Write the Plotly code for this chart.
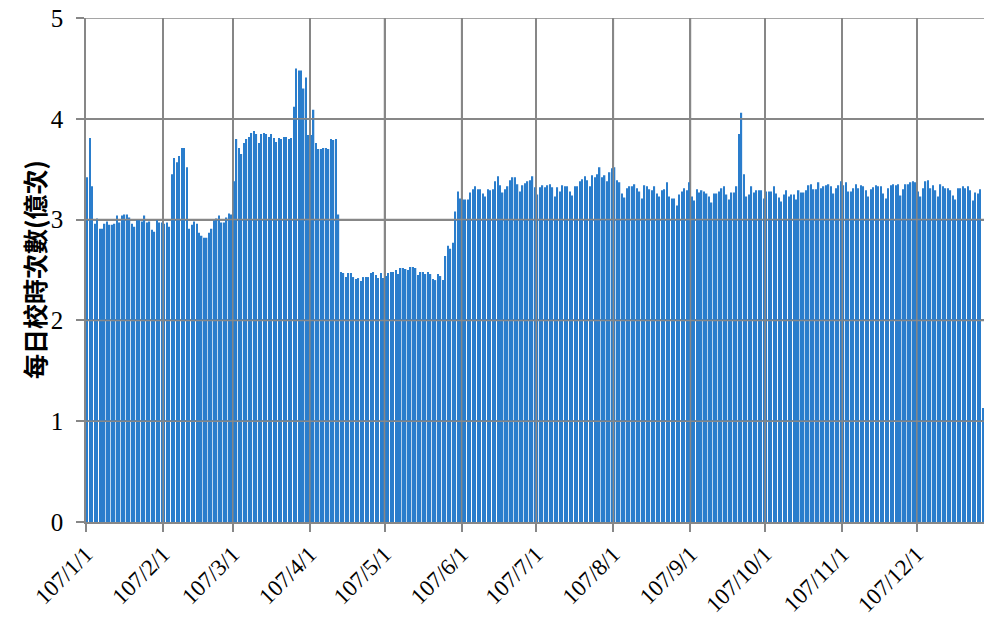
import pandas as pd
import plotly.graph_objects as go

# Daily time-sync request counts (unit: 100 million), ROC year 107 (2018)
jan = [3.42, 3.81, 3.33, 2.96, 3.01, 2.91, 2.91, 2.96, 2.98, 2.95, 2.95, 2.96, 3.04, 2.97, 3.04, 3.05,
       3.05, 3.02, 2.96, 2.93, 3.00, 3.00, 2.98, 3.04, 2.97, 2.98, 2.90, 2.88, 3.00, 2.97, 2.97]
feb = [2.96, 2.97, 2.93, 3.45, 3.61, 3.57, 3.63, 3.71, 3.71, 3.52, 2.91, 2.95, 2.98, 2.96, 2.87, 2.84,
       2.82, 2.82, 2.87, 2.91, 2.99, 3.01, 3.04, 2.97, 2.97, 3.02, 3.06, 3.05]
mar = [3.38, 3.80, 3.71, 3.65, 3.76, 3.80, 3.82, 3.86, 3.88, 3.85, 3.76, 3.85, 3.86, 3.85, 3.82, 3.85,
       3.81, 3.77, 3.81, 3.80, 3.82, 3.82, 3.80, 3.81, 4.12, 4.50, 4.48, 4.48, 4.30, 4.41, 3.84]
apr = [3.84, 4.09, 3.76, 3.70, 3.70, 3.71, 3.71, 3.70, 3.80, 3.79, 3.80, 3.05, 2.48, 2.47, 2.43, 2.47,
       2.47, 2.43, 2.41, 2.42, 2.39, 2.43, 2.43, 2.43, 2.47, 2.48, 2.45, 2.42, 2.47, 2.42]
may = [2.44, 2.47, 2.48, 2.48, 2.50, 2.46, 2.52, 2.52, 2.51, 2.50, 2.53, 2.53, 2.52, 2.45, 2.48, 2.48,
       2.46, 2.48, 2.46, 2.41, 2.40, 2.46, 2.44, 2.40, 2.64, 2.74, 2.71, 2.77, 3.08, 3.28, 3.21]
jun = [3.20, 3.20, 3.20, 3.27, 3.30, 3.33, 3.30, 3.30, 3.26, 3.23, 3.30, 3.29, 3.30, 3.38, 3.43, 3.34,
       3.27, 3.30, 3.33, 3.39, 3.42, 3.42, 3.35, 3.28, 3.34, 3.36, 3.38, 3.39, 3.43, 3.32]
jul = [3.25, 3.32, 3.34, 3.32, 3.34, 3.35, 3.32, 3.23, 3.32, 3.28, 3.34, 3.33, 3.33, 3.28, 3.24, 3.33,
       3.33, 3.38, 3.40, 3.43, 3.39, 3.33, 3.44, 3.42, 3.45, 3.52, 3.42, 3.44, 3.38, 3.47, 3.51]
aug = [3.52, 3.39, 3.37, 3.26, 3.22, 3.31, 3.33, 3.33, 3.35, 3.31, 3.28, 3.21, 3.34, 3.33, 3.30, 3.29,
       3.33, 3.26, 3.23, 3.29, 3.30, 3.37, 3.23, 3.21, 3.21, 3.14, 3.25, 3.28, 3.31, 3.29, 3.37]
sep = [3.23, 3.19, 3.30, 3.27, 3.29, 3.28, 3.26, 3.23, 3.17, 3.26, 3.26, 3.28, 3.31, 3.33, 3.25, 3.20,
       3.27, 3.27, 3.33, 3.85, 4.06, 3.45, 3.23, 3.25, 3.33, 3.27, 3.29, 3.29, 3.29, 3.21]
oct_ = [3.28, 3.28, 3.28, 3.33, 3.26, 3.22, 3.18, 3.25, 3.29, 3.23, 3.25, 3.25, 3.20, 3.29, 3.27, 3.27,
        3.29, 3.34, 3.35, 3.30, 3.30, 3.37, 3.31, 3.33, 3.34, 3.35, 3.33, 3.26, 3.31, 3.34, 3.38]
nov = [3.34, 3.37, 3.28, 3.28, 3.31, 3.35, 3.31, 3.34, 3.33, 3.29, 3.23, 3.30, 3.32, 3.34, 3.33, 3.33,
       3.26, 3.21, 3.31, 3.34, 3.35, 3.34, 3.35, 3.24, 3.30, 3.35, 3.35, 3.37, 3.38, 3.37]
dec = [3.28, 3.23, 3.31, 3.38, 3.39, 3.31, 3.34, 3.29, 3.23, 3.35, 3.33, 3.31, 3.31, 3.29, 3.24, 3.20,
       3.31, 3.31, 3.33, 3.31, 3.33, 3.29, 3.19, 3.27, 3.26, 3.30, 1.13]

months = [jan, feb, mar, apr, may, jun, jul, aug, sep, oct_, nov, dec]
values = [v for m in months for v in m]
dates = pd.date_range("2018-01-01", periods=len(values), freq="D")

tick_dates = [f"2018-{m:02d}-01" for m in range(1, 13)]
tick_labels = [f"107/{m}/1" for m in range(1, 13)]
y_ticks = [0, 1, 2, 3, 4, 5]

y_title = "每日校時次數(億次)"

grid_color = "#878787"
grid_width = 1.5
serif = "Liberation Serif"

fig = go.Figure(
    go.Bar(
        x=dates,
        y=values,
        xperiod=86400000,
        xperiodalignment="middle",
        marker=dict(color="#2a7dcc", line=dict(width=0)),
        hoverinfo="x+y",
    )
)

# grid lines drawn over the bars
grid_shapes = []
for d in tick_dates[1:]:
    grid_shapes.append(dict(type="line", xref="x", yref="paper", x0=d, x1=d, y0=0, y1=1,
                            line=dict(color=grid_color, width=grid_width), layer="above"))
for v in y_ticks[1:]:
    grid_shapes.append(dict(type="line", xref="paper", yref="y", x0=0, x1=1, y0=v, y1=v,
                            line=dict(color=grid_color, width=grid_width), layer="above"))

fig.update_layout(
    width=984,
    height=623,
    margin=dict(l=86, r=0, t=18, b=101),
    paper_bgcolor="white",
    plot_bgcolor="white",
    bargap=0.45,
    showlegend=False,
    font=dict(family=serif, color="black"),
    shapes=grid_shapes,
    annotations=[
        dict(
            text=f"<b>{y_title}</b>",
            xref="paper", yref="paper",
            x=0, y=0.5,
            xshift=-52,
            xanchor="center", yanchor="middle",
            textangle=-90,
            showarrow=False,
            font=dict(family="Noto Sans CJK TC", size=25, color="black"),
        )
    ],
)

fig.update_xaxes(
    type="date",
    range=["2018-01-01", str(dates[-1] + pd.Timedelta(days=1))],
    tickmode="array",
    tickvals=tick_dates,
    ticktext=tick_labels,
    tickangle=-45,
    tickfont=dict(family=serif, size=23, color="black"),
    ticks="outside",
    ticklen=8,
    tickcolor=grid_color,
    tickwidth=grid_width,
    showgrid=True,
    gridcolor=grid_color,
    gridwidth=grid_width,
    showline=True,
    linecolor=grid_color,
    linewidth=grid_width,
    zeroline=False,
    layer="above traces",
    automargin=False,
)

fig.update_yaxes(
    range=[0, 5],
    tickmode="array",
    tickvals=y_ticks,
    tickfont=dict(family=serif, size=25, color="black"),
    ticks="outside",
    ticklen=8,
    tickcolor=grid_color,
    tickwidth=grid_width,
    ticklabelstandoff=8,
    showgrid=True,
    gridcolor=grid_color,
    gridwidth=grid_width,
    showline=True,
    linecolor=grid_color,
    linewidth=grid_width,
    zeroline=False,
    layer="above traces",
    automargin=False,
)

fig.write_html("out.html")
